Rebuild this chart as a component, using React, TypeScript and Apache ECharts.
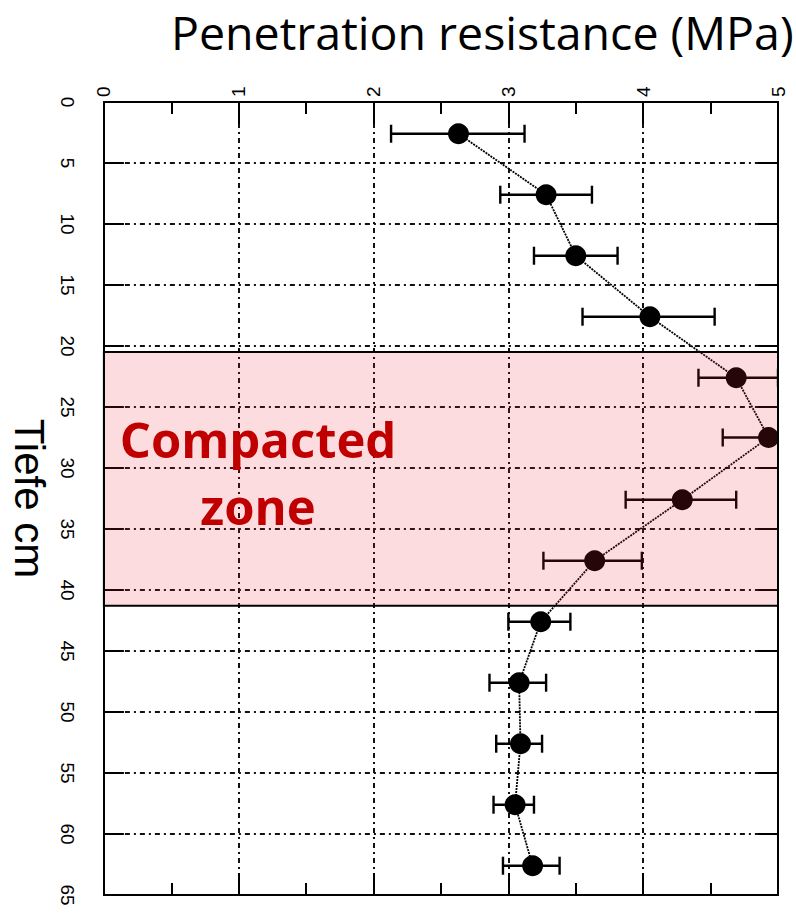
import React, { useEffect, useRef } from "react";
import * as echarts from "echarts";

// Depth (cm) of each measurement
const depths = [2.6, 7.6, 12.6, 17.6, 22.6, 27.5, 32.6, 37.6, 42.6, 47.6, 52.6, 57.6, 62.6];
// Mean penetration resistance (MPa)
const meanValues = [2.63, 3.28, 3.5, 4.05, 4.69, 4.93, 4.29, 3.64, 3.24, 3.08, 3.09, 3.05, 3.18];
// Error bar lower / upper bounds (MPa)
const lowValues = [2.13, 2.94, 3.19, 3.55, 4.41, 4.59, 3.87, 3.26, 3.0, 2.86, 2.91, 2.89, 2.96];
const highValues = [3.12, 3.62, 3.81, 4.53, 5.0, 5.3, 4.69, 3.99, 3.46, 3.28, 3.25, 3.19, 3.38];
// Compacted zone (cm)
const zoneTop = 20.5;
const zoneBottom = 41.3;
const zoneLabel = "Compacted\nzone";
const titleText = "Penetration resistance (MPa)";
const depthAxisName = "Tiefe cm";

export default function App() {
  const ref = useRef<HTMLDivElement>(null);

  useEffect(() => {
    if (!ref.current) return;
    const chart = echarts.init(ref.current, undefined, { renderer: "svg" });

    const gridLine = { show: true, lineStyle: { color: "#111", width: 2, type: [2, 4, 5, 4] as any } };
    const tickFont = { fontFamily: "'Liberation Sans Narrow', 'Liberation Sans', Arial", fontSize: 19, color: "#000" };

    const xBase = {
      type: "value" as const,
      min: 0,
      max: 5,
      interval: 1,
      axisLine: { show: true, onZero: false, lineStyle: { color: "#000", width: 2 } },
      axisTick: { show: true, inside: true, length: 22, lineStyle: { color: "#000", width: 2 } },
      minorTick: { show: true, splitNumber: 2, length: 12, lineStyle: { color: "#000", width: 2 } },
    };
    const yBase = {
      type: "value" as const,
      min: 0,
      max: 65,
      interval: 5,
      inverse: true,
      axisLine: { show: true, onZero: false, lineStyle: { color: "#000", width: 2 } },
      axisTick: { show: true, inside: true, length: 20, lineStyle: { color: "#000", width: 2 } },
    };

    const errData = depths.map((d, i) => [lowValues[i], highValues[i], d]);
    const lineData = depths.map((d, i) => [meanValues[i], d]);

    chart.setOption({
      animation: false,
      backgroundColor: "#fff",
      title: {
        text: titleText,
        left: 166,
        top: 3,
        textStyle: { fontFamily: "'Open Sans'", fontSize: 46.5, fontWeight: "normal", color: "#000" },
      },
      grid: { left: 97, top: 102, width: 681, height: 793 },
      xAxis: [
        {
          ...xBase,
          position: "top",
          splitLine: gridLine,
          axisLabel: { ...tickFont, rotate: -90, margin: 5 },
        },
        {
          ...xBase,
          position: "bottom",
          splitLine: { show: false },
          axisLabel: { show: false },
        },
      ],
      yAxis: [
        {
          ...yBase,
          position: "left",
          splitLine: gridLine,
          axisLabel: { ...tickFont, rotate: -90, margin: 27 },
          name: depthAxisName,
          nameLocation: "middle",
          nameRotate: -90,
          nameGap: 50,
          nameTextStyle: { fontFamily: "'Liberation Sans', Arial", fontSize: 42, color: "#000" },
        },
        {
          ...yBase,
          position: "right",
          splitLine: { show: false },
          axisLabel: { show: false },
        },
      ],
      series: [
        {
          type: "custom",
          xAxisIndex: 0,
          yAxisIndex: 0,
          z: 2,
          clip: true,
          data: errData,
          encode: { x: [0, 1], y: 2 },
          renderItem: (params: any, api: any) => {
            const p1 = api.coord([api.value(0), api.value(2)]);
            const p2 = api.coord([api.value(1), api.value(2)]);
            const h = 9;
            const st = { stroke: "#000", lineWidth: 2.4 };
            return {
              type: "group",
              children: [
                { type: "line", shape: { x1: p1[0], y1: p1[1], x2: p2[0], y2: p2[1] }, style: st },
                { type: "line", shape: { x1: p1[0], y1: p1[1] - h, x2: p1[0], y2: p1[1] + h }, style: st },
                { type: "line", shape: { x1: p2[0], y1: p2[1] - h, x2: p2[0], y2: p2[1] + h }, style: st },
              ],
            };
          },
        },
        {
          type: "line",
          xAxisIndex: 0,
          yAxisIndex: 0,
          z: 3,
          data: lineData,
          symbol: "circle",
          symbolSize: 21,
          itemStyle: { color: "#000" },
          lineStyle: { color: "#000", width: 1.8, type: [2, 1] as any },
        },
        {
          type: "line",
          xAxisIndex: 0,
          yAxisIndex: 0,
          z: 10,
          data: [],
          markArea: {
            silent: true,
            z: 10,
            itemStyle: { color: "rgba(245,40,60,0.16)", borderColor: "#000", borderWidth: 2 },
            data: [[{ coord: [0, zoneTop] }, { coord: [5, zoneBottom] }]],
          },
        },
      ],
      graphic: [
        {
          type: "text",
          x: 258,
          y: 472,
          z: 100,
          style: {
            text: zoneLabel,
            fontFamily: "'Open Sans'",
            fontWeight: "bold",
            fontSize: 49,
            lineHeight: 67,
            fill: "#c00000",
            align: "center",
            verticalAlign: "middle",
          },
        },
      ],
    });

    return () => chart.dispose();
  }, []);

  return <div ref={ref} style={{ position: "fixed", left: 0, top: 0, width: 796, height: 914 }} />;
}
